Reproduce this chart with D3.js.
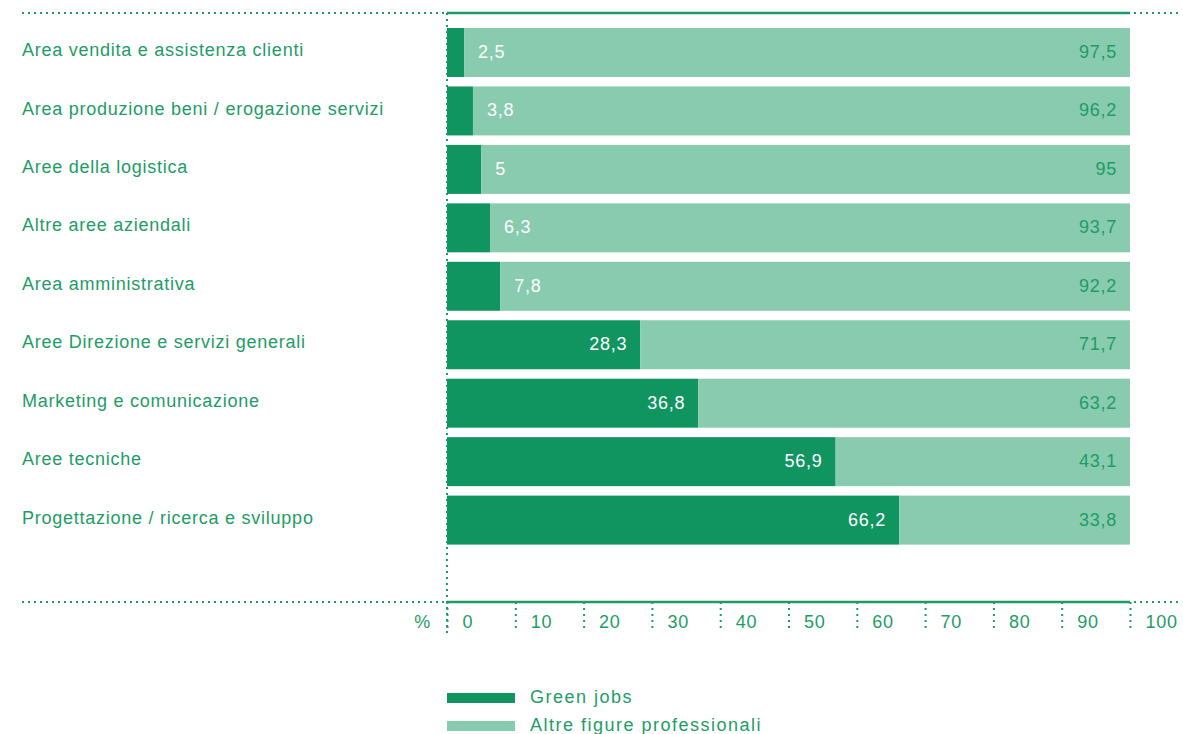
<!DOCTYPE html>
<html>
<head>
<meta charset="utf-8">
<script src="https://cdn.jsdelivr.net/npm/d3@7"></script>
<style>
  body { margin: 0; background: #fff; }
  text { font-family: "Liberation Sans", Arial, sans-serif; font-size: 18px; letter-spacing: 0.75px; }
</style>
</head>
<body>
<div id="wrapper"></div>
<script>
var categories = [
    "Area vendita e assistenza clienti",
    "Area produzione beni / erogazione servizi",
    "Aree della logistica",
    "Altre aree aziendali",
    "Area amministrativa",
    "Aree Direzione e servizi generali",
    "Marketing e comunicazione",
    "Aree tecniche",
    "Progettazione / ricerca e sviluppo"
]
var greenJobs = [2.5, 3.8, 5, 6.3, 7.8, 28.3, 36.8, 56.9, 66.2]
var altre = [97.5, 96.2, 95, 93.7, 92.2, 71.7, 63.2, 43.1, 33.8]
var ticks = [0, 10, 20, 30, 40, 50, 60, 70, 80, 90, 100]
var seriesNames = ["Green jobs", "Altre figure professionali"]

function draw(){
    var width = 1183, height = 734
    var dark = "#109561", light = "#88cbae", ink = "#1e9c66"
    var fmt = function(v){ return String(v).replace(".", ",") }

    var svg = d3.select("#wrapper").append("svg")
        .attr("width", width)
        .attr("height", height)

    var x = d3.scaleLinear().domain([0, 100]).range([447, 1130])
    var y = d3.scaleBand().domain(categories).range([28, 544.6]).paddingInner(0.162).paddingOuter(0)
    var topY = 13, baseY = 602

    // frame lines
    ;[topY, baseY].forEach(function(yy){
        svg.append("line").attr("x1", 22).attr("x2", x(0)).attr("y1", yy).attr("y2", yy)
            .attr("stroke", ink).attr("stroke-width", 2).attr("stroke-dasharray", "2,4")
        svg.append("line").attr("x1", x(0)).attr("x2", x(100)).attr("y1", yy).attr("y2", yy)
            .attr("stroke", ink).attr("stroke-width", 2.5)
        svg.append("line").attr("x1", x(100) + 4).attr("x2", 1180).attr("y1", yy).attr("y2", yy)
            .attr("stroke", ink).attr("stroke-width", 2).attr("stroke-dasharray", "2,4")
    })

    // bars
    var rows = svg.append("g").selectAll("g").data(categories).join("g")
    rows.append("rect")
        .attr("x", x(0))
        .attr("y", function(d){ return y(d) })
        .attr("width", function(d, i){ return x(greenJobs[i]) - x(0) })
        .attr("height", y.bandwidth())
        .attr("fill", dark)
    rows.append("rect")
        .attr("x", function(d, i){ return x(greenJobs[i]) })
        .attr("y", function(d){ return y(d) })
        .attr("width", function(d, i){ return x(greenJobs[i] + altre[i]) - x(greenJobs[i]) })
        .attr("height", y.bandwidth())
        .attr("fill", light)

    // category labels
    rows.append("text")
        .attr("x", 22)
        .attr("y", function(d){ return y(d) + y.bandwidth() / 2 })
        .attr("dy", "0.2em")
        .attr("fill", ink)
        .text(function(d){ return d })

    // value labels
    rows.append("text")
        .attr("x", function(d, i){ return greenJobs[i] < 10 ? x(greenJobs[i]) + 14 : x(greenJobs[i]) - 13 })
        .attr("text-anchor", function(d, i){ return greenJobs[i] < 10 ? "start" : "end" })
        .attr("y", function(d){ return y(d) + y.bandwidth() / 2 })
        .attr("dy", "0.3em")
        .attr("fill", "#fff")
        .text(function(d, i){ return fmt(greenJobs[i]) })
    rows.append("text")
        .attr("x", x(100) - 13)
        .attr("text-anchor", "end")
        .attr("y", function(d){ return y(d) + y.bandwidth() / 2 })
        .attr("dy", "0.3em")
        .attr("fill", ink)
        .text(function(d, i){ return fmt(altre[i]) })

    // zero line
    svg.append("line").attr("x1", x(0)).attr("x2", x(0)).attr("y1", topY).attr("y2", 633)
        .attr("stroke", ink).attr("stroke-width", 2).attr("stroke-dasharray", "2,4")

    // x axis
    var axis = svg.append("g").attr("transform", "translate(0," + baseY + ")")
        .call(d3.axisBottom(x).tickValues(ticks).tickSize(28).tickFormat(function(d){ return d }))
    axis.select(".domain").remove()
    axis.selectAll(".tick line")
        .attr("stroke", ink).attr("stroke-width", 2).attr("stroke-dasharray", "2,4")
    axis.selectAll(".tick text")
        .attr("x", 15).attr("y", 21).attr("dy", "0.3em")
        .attr("text-anchor", "start")
        .attr("fill", ink)
        .style("font-size", "18px")
        .style("font-family", "Liberation Sans, Arial, sans-serif")
    svg.append("text").attr("x", 431).attr("y", baseY + 21).attr("dy", "0.3em")
        .attr("text-anchor", "end").attr("fill", ink).text("%")

    // legend
    var legend = svg.append("g").selectAll("g").data(seriesNames).join("g")
        .attr("transform", function(d, i){ return "translate(447," + (693 + i * 28) + ")" })
    legend.append("rect").attr("width", 68).attr("height", 10)
        .attr("fill", function(d, i){ return i == 0 ? dark : light })
    legend.append("text").attr("x", 83).attr("y", 5).attr("dy", "0.3em")
        .style("letter-spacing", "1.5px")
        .attr("fill", ink).text(function(d){ return d })
}
draw()
</script>
</body>
</html>
